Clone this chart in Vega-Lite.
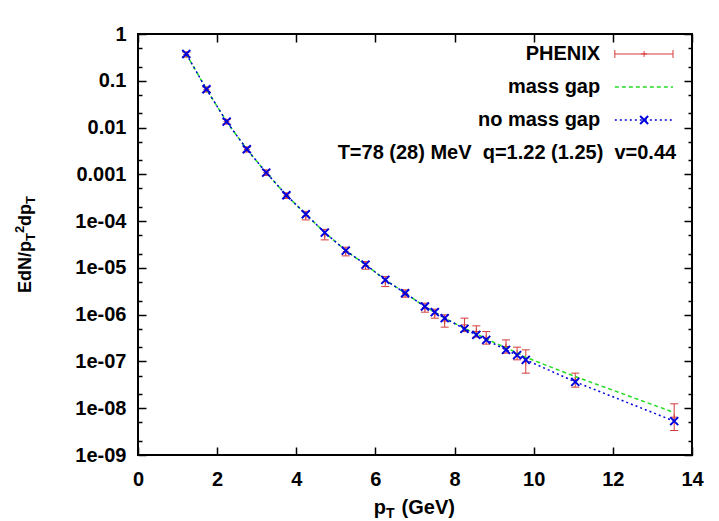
{
 "$schema": "https://vega.github.io/schema/vega-lite/v6.json",
 "width": 554, "height": 421,
 "autosize": {"type": "none"},
 "padding": {"left": 138, "top": 34, "right": 27, "bottom": 66},
 "background": "white",
 "config": {
  "font": "Liberation Sans",
  "view": {"stroke": "black", "strokeWidth": 2},
  "axis": {"grid": false, "domain": false, "ticks": true, "tickColor": "black", "tickWidth": 1.5, "labelColor": "black", "labelFont": "Liberation Sans", "labelFontSize": 20, "labelFontWeight": "bold", "title": null}
 },
 "datasets": {
  "spec": [
   {"pt":1.22,"data":0.3647,"lo":0.3226,"hi":0.4124,"mg":0.374,"nmg":0.374},
   {"pt":1.73,"data":0.06515,"lo":0.0576,"hi":0.0737,"mg":0.0658,"nmg":0.0658},
   {"pt":2.24,"data":0.01334,"lo":0.01194,"hi":0.0149,"mg":0.01337,"nmg":0.01337},
   {"pt":2.75,"data":0.003405,"lo":0.003011,"hi":0.00385,"mg":0.003438,"nmg":0.003438},
   {"pt":3.24,"data":0.0010845,"lo":0.000947,"hi":0.001242,"mg":0.001087,"nmg":0.001087},
   {"pt":3.75,"data":0.0003498,"lo":0.0003055,"hi":0.0004005,"mg":0.0003575,"nmg":0.0003575},
   {"pt":4.24,"data":0.0001308,"lo":0.0001061,"hi":0.0001612,"mg":0.0001404,"nmg":0.0001404},
   {"pt":4.72,"data":5.14e-5,"lo":3.97e-5,"hi":6.65e-5,"mg":5.68e-5,"nmg":5.68e-5},
   {"pt":5.25,"data":2.236e-5,"lo":1.805e-5,"hi":2.77e-5,"mg":2.343e-5,"nmg":2.343e-5},
   {"pt":5.75,"data":1.131e-5,"lo":9.38e-6,"hi":1.363e-5,"mg":1.176e-5,"nmg":1.176e-5},
   {"pt":6.25,"data":5.10e-6,"lo":3.99e-6,"hi":6.52e-6,"mg":5.54e-6,"nmg":5.54e-6},
   {"pt":6.75,"data":2.831e-6,"lo":2.365e-6,"hi":3.39e-6,"mg":2.88e-6,"nmg":2.88e-6},
   {"pt":7.25,"data":1.411e-6,"lo":1.131e-6,"hi":1.761e-6,"mg":1.49e-6,"nmg":1.49e-6},
   {"pt":7.5,"data":1.05e-6,"lo":8.42e-7,"hi":1.31e-6,"mg":1.131e-6,"nmg":1.131e-6},
   {"pt":7.75,"data":7.32e-7,"lo":5.41e-7,"hi":9.9e-7,"mg":8.42e-7,"nmg":8.42e-7},
   {"pt":8.25,"data":6.05e-7,"lo":4.35e-7,"hi":8.42e-7,"mg":5.10e-7,"nmg":4.97e-7},
   {"pt":8.55,"data":4.37e-7,"lo":3.31e-7,"hi":5.76e-7,"mg":3.89e-7,"nmg":3.70e-7},
   {"pt":8.8,"data":3.19e-7,"lo":2.343e-7,"hi":4.35e-7,"mg":3.04e-7,"nmg":2.89e-7},
   {"pt":9.3,"data":2.085e-7,"lo":1.504e-7,"hi":2.89e-7,"mg":1.953e-7,"nmg":1.77e-7},
   {"pt":9.58,"data":1.478e-7,"lo":1.082e-7,"hi":2.02e-7,"mg":1.527e-7,"nmg":1.363e-7},
   {"pt":9.8,"data":9.97e-8,"lo":5.62e-8,"hi":1.77e-7,"mg":1.224e-7,"nmg":1.082e-7},
   {"pt":11.05,"data":3.98e-8,"lo":2.82e-8,"hi":5.62e-8,"mg":4.76e-8,"nmg":3.66e-8},
   {"pt":13.55,"data":6.44e-9,"lo":3.34e-9,"hi":1.242e-8,"mg":8.09e-9,"nmg":5.30e-9}
  ]
 },
 "data": {"name": "spec"},
 "layer": [
  {
   "mark": {"type": "rule", "color": "#d63b3b", "strokeWidth": 1},
   "encoding": {
    "x": {"field": "pt", "type": "quantitative", "scale": {"domain": [0, 14], "nice": false, "zero": false},
          "axis": {"orient": "bottom", "values": [0,2,4,6,8,10,12,14], "tickSize": -8, "labelPadding": 22, "labelFlush": false}},
    "y": {"field": "lo", "type": "quantitative", "scale": {"type": "log", "domain": [1e-9, 1], "nice": false},
          "axis": {"orient": "left", "values": [1,0.5,0.2,0.1,0.05,0.02,0.01,0.005,0.002,0.001,5e-4,2e-4,1e-4,5e-5,2e-5,1e-5,5e-6,2e-6,1e-6,5e-7,2e-7,1e-7,5e-8,2e-8,1e-8,5e-9,2e-9,1e-9],
                   "tickSize": {"condition": {"test": "abs(log(datum.value)/LN10 - round(log(datum.value)/LN10)) < 0.01", "value": -8}, "value": -4},
                   "labelPadding": 20, "labelFlush": false,
                   "labelExpr": "abs(log(datum.value)/LN10 - round(log(datum.value)/LN10)) > 0.01 ? '' : (datum.value >= 0.001 ? format(datum.value, '~g') : '1e-0' + (-round(log(datum.value)/LN10)))"}},
    "y2": {"field": "hi"}
   }
  },
  {
   "mark": {"type": "point", "shape": "M-1,0L1,0", "size": 64, "filled": false, "stroke": "#d63b3b", "strokeWidth": 1, "opacity": 1},
   "encoding": {
    "x": {"field": "pt", "type": "quantitative", "scale": {"domain": [0, 14], "nice": false, "zero": false}, "axis": null},
    "y": {"field": "lo", "type": "quantitative", "scale": {"type": "log", "domain": [1e-9, 1], "nice": false}, "axis": null}
   }
  },
  {
   "mark": {"type": "point", "shape": "M-1,0L1,0", "size": 64, "filled": false, "stroke": "#d63b3b", "strokeWidth": 1, "opacity": 1},
   "encoding": {
    "x": {"field": "pt", "type": "quantitative", "scale": {"domain": [0, 14], "nice": false, "zero": false}, "axis": null},
    "y": {"field": "hi", "type": "quantitative", "scale": {"type": "log", "domain": [1e-9, 1], "nice": false}, "axis": null}
   }
  },
  {
   "mark": {"type": "point", "shape": "M-1,0L1,0M0,-1L0,1", "size": 36, "filled": false, "stroke": "#d63b3b", "strokeWidth": 1, "opacity": 1},
   "encoding": {
    "x": {"field": "pt", "type": "quantitative", "scale": {"domain": [0, 14], "nice": false, "zero": false}, "axis": null},
    "y": {"field": "data", "type": "quantitative", "scale": {"type": "log", "domain": [1e-9, 1], "nice": false}, "axis": null}
   }
  },
  {
   "mark": {"type": "line", "stroke": "#22dd22", "strokeWidth": 1.5, "strokeDash": [4, 3]},
   "encoding": {
    "x": {"field": "pt", "type": "quantitative", "scale": {"domain": [0, 14], "nice": false, "zero": false}, "axis": null},
    "y": {"field": "mg", "type": "quantitative", "scale": {"type": "log", "domain": [1e-9, 1], "nice": false}, "axis": null}
   }
  },
  {
   "mark": {"type": "line", "stroke": "#0000dd", "strokeWidth": 1.5, "strokeDash": [2, 3]},
   "encoding": {
    "x": {"field": "pt", "type": "quantitative", "scale": {"domain": [0, 14], "nice": false, "zero": false},
          "axis": {"orient": "top", "values": [0,2,4,6,8,10,12,14], "tickSize": -8, "labels": false}},
    "y": {"field": "nmg", "type": "quantitative", "scale": {"type": "log", "domain": [1e-9, 1], "nice": false},
          "axis": {"orient": "right", "values": [1,0.5,0.2,0.1,0.05,0.02,0.01,0.005,0.002,0.001,5e-4,2e-4,1e-4,5e-5,2e-5,1e-5,5e-6,2e-6,1e-6,5e-7,2e-7,1e-7,5e-8,2e-8,1e-8,5e-9,2e-9,1e-9],
                   "tickSize": {"condition": {"test": "abs(log(datum.value)/LN10 - round(log(datum.value)/LN10)) < 0.01", "value": -8}, "value": -4},
                   "labels": false}}
   }
  },
  {
   "mark": {"type": "point", "shape": "M-1,-1L1,1M-1,1L1,-1", "size": 64, "filled": false, "stroke": "#0000dd", "strokeWidth": 2, "opacity": 1},
   "encoding": {
    "x": {"field": "pt", "type": "quantitative", "scale": {"domain": [0, 14], "nice": false, "zero": false}, "axis": null},
    "y": {"field": "nmg", "type": "quantitative", "scale": {"type": "log", "domain": [1e-9, 1], "nice": false}, "axis": null}
   }
  },
  {
   "data": {"values": [{}]},
   "mark": {"type": "text", "text": "PHENIX", "align": "right", "baseline": "middle", "fontSize": 20, "fontWeight": "bold", "color": "black"},
   "encoding": {"x": {"datum": 11.68, "type": "quantitative", "axis": null}, "y": {"datum": 0.374, "type": "quantitative", "axis": null}}
  },
  {
   "data": {"values": [{}]},
   "mark": {"type": "text", "text": "mass gap", "align": "right", "baseline": "middle", "fontSize": 20, "fontWeight": "bold", "color": "black"},
   "encoding": {"x": {"datum": 11.68, "type": "quantitative", "axis": null}, "y": {"datum": 0.0737, "type": "quantitative", "axis": null}}
  },
  {
   "data": {"values": [{}]},
   "mark": {"type": "text", "text": "no mass gap", "align": "right", "baseline": "middle", "fontSize": 20, "fontWeight": "bold", "color": "black"},
   "encoding": {"x": {"datum": 11.68, "type": "quantitative", "axis": null}, "y": {"datum": 0.01454, "type": "quantitative", "axis": null}}
  },
  {
   "data": {"values": [{}]},
   "mark": {"type": "text", "text": "T=78 (28) MeV\u00a0 q=1.22 (1.25)\u00a0 v=0.44", "align": "right", "baseline": "middle", "fontSize": 20, "fontWeight": "bold", "color": "black"},
   "encoding": {"x": {"datum": 13.6, "type": "quantitative", "axis": null}, "y": {"datum": 0.00292, "type": "quantitative", "axis": null}}
  },
  {
   "data": {"values": [{}]},
   "mark": {"type": "rule", "color": "#d63b3b", "strokeWidth": 1},
   "encoding": {"x": {"datum": 12.05, "type": "quantitative", "axis": null}, "x2": {"datum": 13.52}, "y": {"datum": 0.374, "type": "quantitative", "axis": null}}
  },
  {
   "data": {"values": [{}]},
   "mark": {"type": "point", "shape": "M0,-1L0,1", "size": 64, "filled": false, "stroke": "#d63b3b", "strokeWidth": 1, "opacity": 1},
   "encoding": {"x": {"datum": 12.05, "type": "quantitative", "axis": null}, "y": {"datum": 0.374, "type": "quantitative", "axis": null}}
  },
  {
   "data": {"values": [{}]},
   "mark": {"type": "point", "shape": "M0,-1L0,1", "size": 64, "filled": false, "stroke": "#d63b3b", "strokeWidth": 1, "opacity": 1},
   "encoding": {"x": {"datum": 13.52, "type": "quantitative", "axis": null}, "y": {"datum": 0.374, "type": "quantitative", "axis": null}}
  },
  {
   "data": {"values": [{}]},
   "mark": {"type": "point", "shape": "M-1,0L1,0M0,-1L0,1", "size": 36, "filled": false, "stroke": "#d63b3b", "strokeWidth": 1, "opacity": 1},
   "encoding": {"x": {"datum": 12.79, "type": "quantitative", "axis": null}, "y": {"datum": 0.374, "type": "quantitative", "axis": null}}
  },
  {
   "data": {"values": [{}]},
   "mark": {"type": "rule", "color": "#22dd22", "strokeWidth": 1.5, "strokeDash": [4, 3]},
   "encoding": {"x": {"datum": 12.05, "type": "quantitative", "axis": null}, "x2": {"datum": 13.52}, "y": {"datum": 0.0737, "type": "quantitative", "axis": null}}
  },
  {
   "data": {"values": [{}]},
   "mark": {"type": "rule", "color": "#0000dd", "strokeWidth": 1.5, "strokeDash": [2, 3]},
   "encoding": {"x": {"datum": 12.05, "type": "quantitative", "axis": null}, "x2": {"datum": 13.52}, "y": {"datum": 0.01454, "type": "quantitative", "axis": null}}
  },
  {
   "data": {"values": [{}]},
   "mark": {"type": "point", "shape": "M-1,-1L1,1M-1,1L1,-1", "size": 64, "filled": false, "stroke": "#0000dd", "strokeWidth": 2, "opacity": 1},
   "encoding": {"x": {"datum": 12.79, "type": "quantitative", "axis": null}, "y": {"datum": 0.01454, "type": "quantitative", "axis": null}}
  },
  {
   "data": {"values": [{}]},
   "mark": {"type": "text", "text": "p", "align": "left", "baseline": "alphabetic", "fontSize": 20, "fontWeight": "bold", "color": "black"},
   "encoding": {"x": {"datum": 5.96, "type": "quantitative", "axis": null}, "y": {"datum": 5.54e-11, "type": "quantitative", "axis": null}}
  },
  {
   "data": {"values": [{}]},
   "mark": {"type": "text", "text": "T", "align": "left", "baseline": "alphabetic", "fontSize": 14, "fontWeight": "bold", "color": "black"},
   "encoding": {"x": {"datum": 6.268, "type": "quantitative", "axis": null}, "y": {"datum": 4.55e-11, "type": "quantitative", "axis": null}}
  },
  {
   "data": {"values": [{}]},
   "mark": {"type": "text", "text": "(GeV)", "align": "left", "baseline": "alphabetic", "fontSize": 20, "fontWeight": "bold", "color": "black"},
   "encoding": {"x": {"datum": 6.66, "type": "quantitative", "axis": null}, "y": {"datum": 5.54e-11, "type": "quantitative", "axis": null}}
  },
  {
   "data": {"values": [{}]},
   "mark": {"type": "text", "text": "EdN/p", "angle": 270, "align": "left", "baseline": "alphabetic", "fontSize": 18, "fontWeight": "bold", "color": "black"},
   "encoding": {"x": {"datum": -2.70, "type": "quantitative", "axis": null}, "y": {"datum": 2.907e-6, "type": "quantitative", "axis": null}}
  },
  {
   "data": {"values": [{}]},
   "mark": {"type": "text", "text": "T", "angle": 270, "align": "left", "baseline": "alphabetic", "fontSize": 13, "fontWeight": "bold", "color": "black"},
   "encoding": {"x": {"datum": -2.60, "type": "quantitative", "axis": null}, "y": {"datum": 3.758e-5, "type": "quantitative", "axis": null}}
  },
  {
   "data": {"values": [{}]},
   "mark": {"type": "text", "text": "2", "angle": 270, "align": "left", "baseline": "alphabetic", "fontSize": 13, "fontWeight": "bold", "color": "black"},
   "encoding": {"x": {"datum": -2.877, "type": "quantitative", "axis": null}, "y": {"datum": 5.544e-5, "type": "quantitative", "axis": null}}
  },
  {
   "data": {"values": [{}]},
   "mark": {"type": "text", "text": "dp", "angle": 270, "align": "left", "baseline": "alphabetic", "fontSize": 18, "fontWeight": "bold", "color": "black"},
   "encoding": {"x": {"datum": -2.70, "type": "quantitative", "axis": null}, "y": {"datum": 7.90e-5, "type": "quantitative", "axis": null}}
  },
  {
   "data": {"values": [{}]},
   "mark": {"type": "text", "text": "T", "angle": 270, "align": "left", "baseline": "alphabetic", "fontSize": 13, "fontWeight": "bold", "color": "black"},
   "encoding": {"x": {"datum": -2.60, "type": "quantitative", "axis": null}, "y": {"datum": 2.334e-4, "type": "quantitative", "axis": null}}
  }
 ],
 "resolve": {"axis": {"x": "independent", "y": "independent"}}
}
